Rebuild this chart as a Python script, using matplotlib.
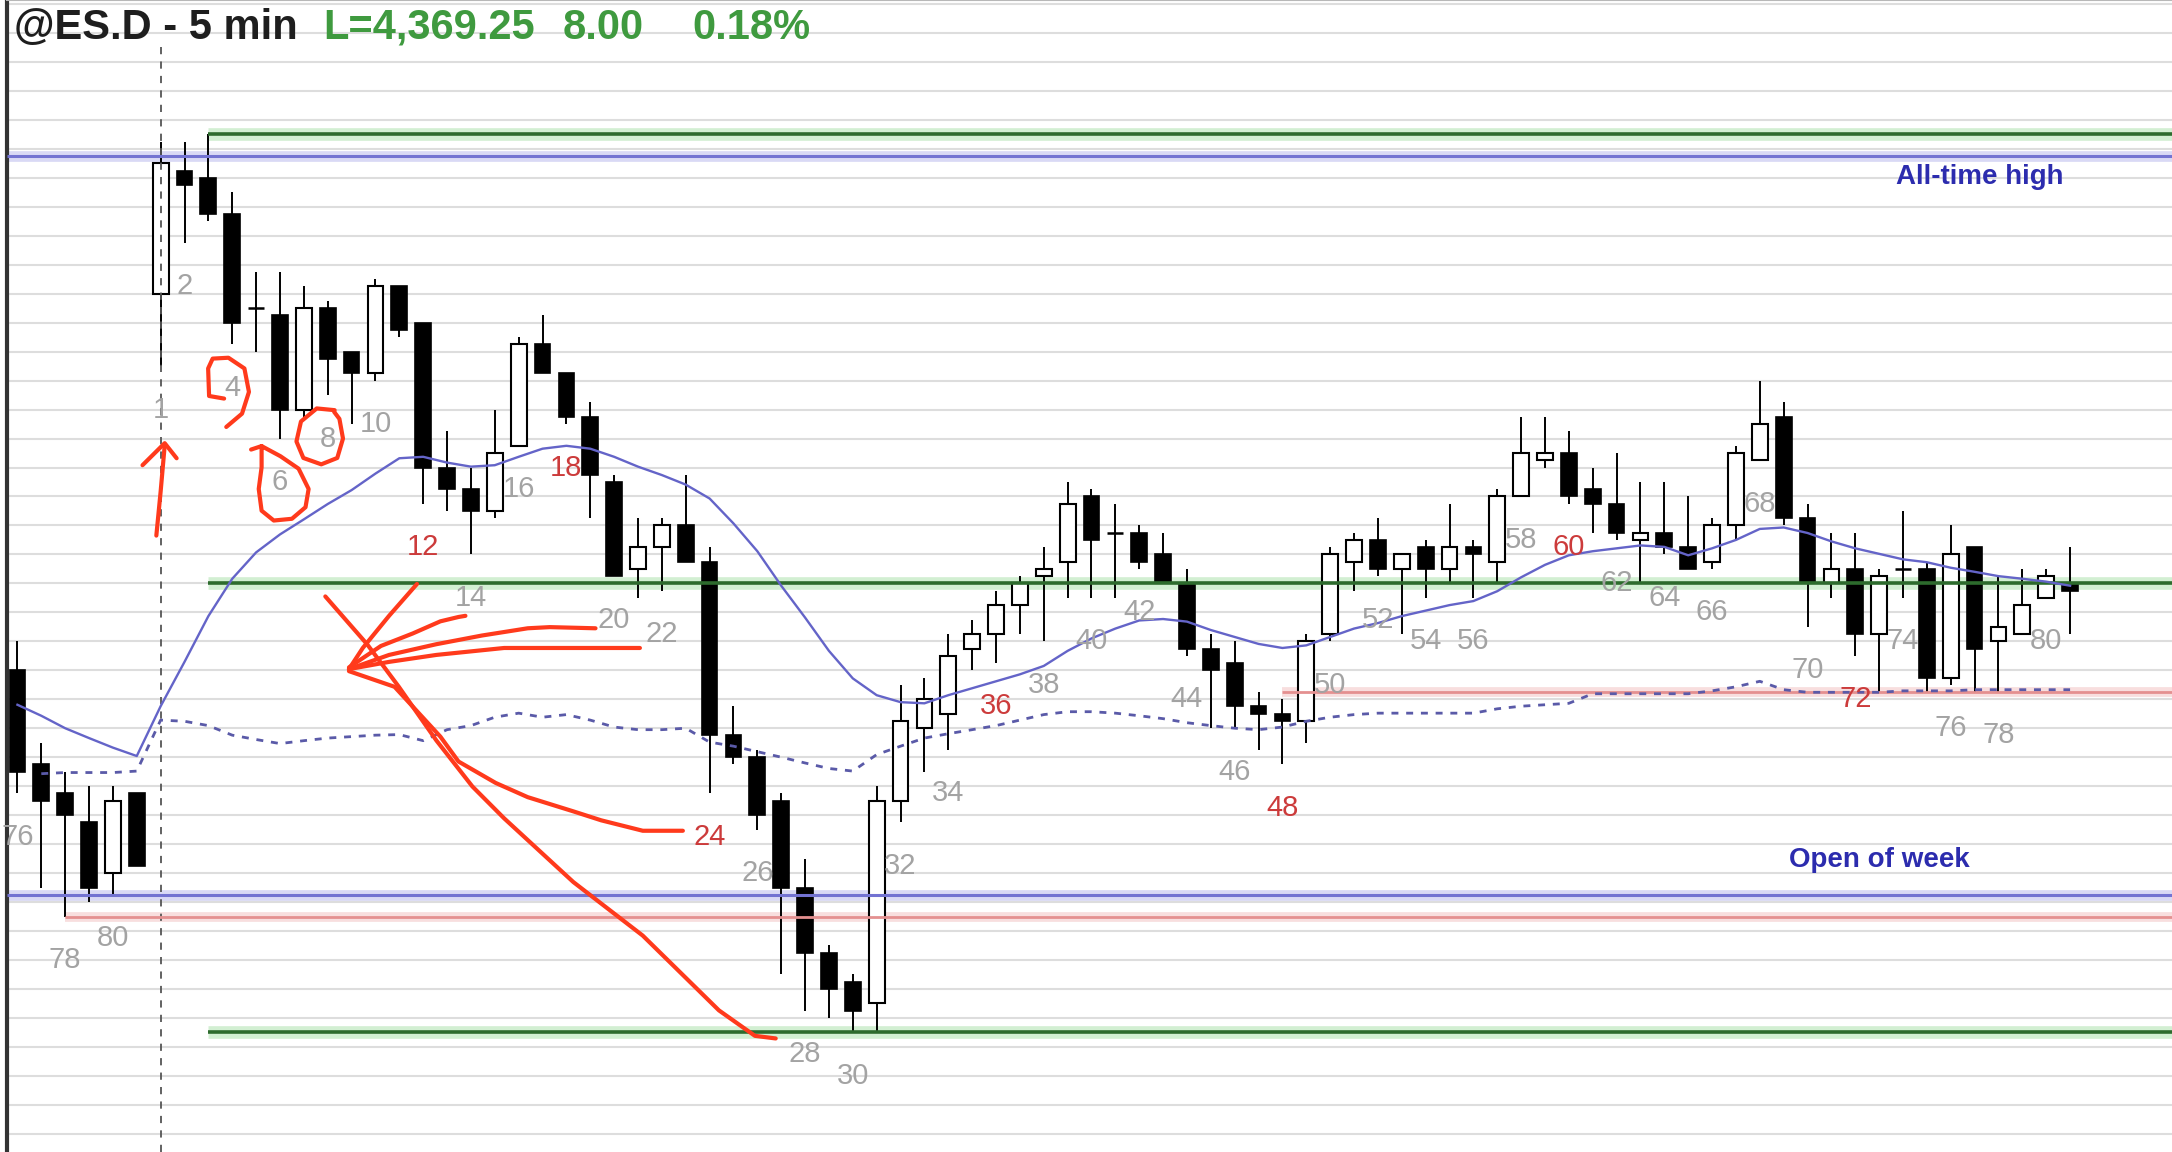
import numpy as np
import matplotlib.pyplot as plt

plt.rcParams['font.family'] = ['Liberation Sans', 'DejaVu Sans']

# ---- ES 5-min bars: last 6 bars of prior session, then bars 1..81 ----
prev_bar_nums = [76, 77, 78, 79, 80, 81]
bar_nums = list(range(1, 82))

opens = [4366.5, 4363.25, 4362.25, 4361.25, 4359.5, 4362.25,
         4379.5, 4383.75, 4383.5, 4382.25, 4379.0, 4378.75, 4375.5, 4379.0, 4377.5, 4376.75,
         4379.75, 4378.5, 4373.5, 4372.75, 4372.0, 4374.25, 4377.75, 4376.75, 4375.25, 4373.0,
         4370.0, 4370.75, 4371.5, 4370.25, 4364.25, 4363.5, 4362.0, 4359.0, 4356.75, 4355.75,
         4355.0, 4362.0, 4364.5, 4365.0, 4367.25, 4367.75, 4368.75, 4369.75, 4370.25, 4372.5,
         4371.25, 4371.25, 4370.5, 4369.5, 4367.25, 4366.75, 4365.25, 4365.0, 4364.75, 4367.75,
         4370.25, 4371.0, 4370.0, 4370.75, 4370.0, 4370.75, 4370.25, 4372.5, 4373.75, 4374.0,
         4372.75, 4372.25, 4371.0, 4371.25, 4370.75, 4370.25, 4371.5, 4373.75, 4375.25, 4371.75,
         4369.5, 4370.0, 4367.75, 4370.0, 4370.0, 4366.25, 4370.75, 4367.5, 4367.75, 4369.0,
         4369.5]
highs = [4367.5, 4364.0, 4363.0, 4362.5, 4362.5, 4362.25,
         4384.75, 4384.75, 4385.0, 4383.0, 4380.25, 4380.25, 4379.75, 4379.25, 4377.5, 4380.0,
         4379.75, 4378.5, 4374.75, 4373.5, 4375.5, 4378.0, 4378.75, 4376.75, 4375.75, 4373.25,
         4371.75, 4371.75, 4373.25, 4370.75, 4365.25, 4363.75, 4362.25, 4360.0, 4357.0, 4356.0,
         4362.5, 4366.0, 4366.25, 4367.75, 4368.25, 4369.25, 4369.75, 4370.75, 4373.0, 4372.75,
         4372.25, 4371.5, 4371.25, 4370.0, 4367.75, 4367.5, 4365.75, 4365.5, 4367.75, 4370.75,
         4371.25, 4371.75, 4370.5, 4371.0, 4372.25, 4371.0, 4372.75, 4375.25, 4375.25, 4374.75,
         4373.5, 4374.0, 4373.0, 4373.0, 4372.5, 4371.75, 4374.25, 4376.5, 4375.75, 4372.25,
         4371.25, 4371.25, 4370.0, 4372.0, 4370.25, 4371.5, 4370.75, 4369.75, 4370.0, 4370.0,
         4370.75]
lows = [4362.25, 4359.0, 4358.0, 4358.5, 4358.75, 4359.75,
        4377.0, 4381.25, 4382.0, 4377.75, 4377.5, 4374.5, 4375.25, 4376.0, 4375.0, 4376.5,
        4378.0, 4372.25, 4372.0, 4370.5, 4371.75, 4374.25, 4376.75, 4375.0, 4371.75, 4369.75,
        4369.0, 4369.25, 4370.25, 4362.25, 4363.25, 4361.0, 4356.0, 4354.75, 4354.5, 4354.0,
        4354.0, 4361.25, 4363.0, 4363.75, 4366.5, 4366.75, 4367.75, 4367.5, 4369.0, 4369.0,
        4369.0, 4370.0, 4369.5, 4367.0, 4364.5, 4364.5, 4363.75, 4363.25, 4364.0, 4367.5,
        4369.25, 4369.75, 4367.75, 4369.0, 4369.5, 4369.0, 4369.5, 4372.5, 4373.5, 4372.25,
        4371.25, 4371.0, 4369.5, 4370.5, 4370.0, 4370.0, 4371.0, 4373.75, 4371.5, 4368.0,
        4369.0, 4367.0, 4365.75, 4369.0, 4365.75, 4366.0, 4365.75, 4365.75, 4367.75, 4369.0,
        4367.75]
closes = [4363.0, 4362.0, 4361.5, 4359.0, 4362.0, 4359.75,
          4384.0, 4383.25, 4382.25, 4378.5, 4379.0, 4375.5, 4379.0, 4377.25, 4376.75, 4379.75,
          4378.25, 4373.5, 4372.75, 4372.0, 4374.0, 4377.75, 4376.75, 4375.25, 4373.25, 4369.75,
          4370.75, 4371.5, 4370.25, 4364.25, 4363.5, 4361.5, 4359.0, 4356.75, 4355.5, 4354.75,
          4362.0, 4364.75, 4365.5, 4367.0, 4367.75, 4368.75, 4369.5, 4370.0, 4372.25, 4371.0,
          4371.25, 4370.25, 4369.5, 4367.25, 4366.5, 4365.25, 4365.0, 4364.75, 4367.5, 4370.5,
          4371.0, 4370.0, 4370.5, 4370.0, 4370.75, 4370.5, 4372.5, 4374.0, 4374.0, 4372.5,
          4372.25, 4371.25, 4371.25, 4370.75, 4370.0, 4371.5, 4374.0, 4375.0, 4371.75, 4369.5,
          4370.0, 4367.75, 4369.75, 4370.0, 4366.25, 4370.5, 4367.25, 4368.0, 4368.75, 4369.75,
          4369.25]

# solid blue average and dotted average, one value per bar (nan = not drawn)
ema = [4365.31, 4364.93, 4364.50, 4364.16, 4363.83, 4363.54,
       4365.26, 4366.79, 4368.37, 4369.66, 4370.57, 4371.19, 4371.71, 4372.24, 4372.72, 4373.29,
       4373.82, 4373.87, 4373.67, 4373.53, 4373.58, 4373.87, 4374.15, 4374.25, 4374.15, 4373.87,
       4373.53, 4373.24, 4372.91, 4372.43, 4371.57, 4370.61, 4369.42, 4368.32, 4367.17, 4366.22,
       4365.64, 4365.40, 4365.36, 4365.64, 4365.88, 4366.12, 4366.36, 4366.65, 4367.17, 4367.60,
       4367.94, 4368.22, 4368.27, 4368.18, 4367.89, 4367.65, 4367.41, 4367.27, 4367.36, 4367.65,
       4367.94, 4368.13, 4368.37, 4368.56, 4368.75, 4368.89, 4369.23, 4369.71, 4370.14, 4370.47,
       4370.61, 4370.71, 4370.81, 4370.76, 4370.47, 4370.71, 4371.00, 4371.38, 4371.43, 4371.24,
       4370.95, 4370.71, 4370.52, 4370.33, 4370.23, 4370.04, 4369.90, 4369.75, 4369.66, 4369.56,
       4369.42]
avg_dotted = [np.nan, 4362.93, 4362.97, 4362.97, 4362.97, 4363.02,
              4364.78, 4364.74, 4364.59, 4364.26, 4364.11, 4363.97, 4364.07, 4364.16, 4364.21, 4364.26,
              4364.28, 4364.07, 4364.45, 4364.59, 4364.88, 4365.02, 4364.88, 4364.97, 4364.78, 4364.54,
              4364.45, 4364.45, 4364.50, 4364.02, 4363.88, 4363.69, 4363.50, 4363.30, 4363.11, 4363.02,
              4363.59, 4363.88, 4364.16, 4364.31, 4364.45, 4364.59, 4364.78, 4364.97, 4365.07, 4365.07,
              4365.02, 4364.93, 4364.83, 4364.69, 4364.59, 4364.50, 4364.45, 4364.54, 4364.74, 4364.88,
              4364.97, 4365.02, 4365.02, 4365.02, 4365.02, 4365.02, 4365.17, 4365.26, 4365.31, 4365.36,
              4365.69, 4365.69, 4365.69, 4365.69, 4365.69, 4365.79, 4365.93, 4366.12, 4365.83, 4365.74,
              4365.74, 4365.74, 4365.74, 4365.79, 4365.79, 4365.79, 4365.83, 4365.83, 4365.83, 4365.83,
              4365.83]

# horizontal levels
day_high = 4385.0
all_time_high = 4384.25
mid_level = 4369.5
day_low = 4354.0
week_open = 4358.75
prev_low = 4358.0
pink_level = 4365.75

prev_labelled = [76, 78, 80]
labelled = [1] + list(range(2, 81, 2))
red_labels = [12, 18, 24, 36, 48, 60, 72]

# hand-drawn red ink (bar position, price)
ink_strokes = [
    [(0.82, 4371.15), (1.0, 4372.67), (1.17, 4374.26)],
    [(0.24, 4373.58), (1.17, 4374.34), (1.67, 4373.82)],
    [(3.66, 4375.88), (3.03, 4375.97), (2.99, 4376.92), (3.18, 4377.26), (3.84, 4377.29),
     (4.51, 4376.92), (4.70, 4376.11), (4.41, 4375.36), (3.75, 4374.9)],
    [(4.79, 4374.12), (5.23, 4374.24), (6.02, 4373.89), (6.78, 4373.46), (7.20, 4372.76),
     (7.07, 4372.13), (6.50, 4371.73), (5.74, 4371.67), (5.23, 4372.01), (5.11, 4372.76),
     (5.23, 4373.51), (5.23, 4374.24)],
    [(8.29, 4375.48), (7.54, 4375.54), (6.88, 4375.09), (6.69, 4374.4), (6.98, 4373.83),
     (7.73, 4373.61), (8.4, 4373.83), (8.64, 4374.5), (8.49, 4375.18), (8.27, 4375.42)],
    [(11.74, 4369.48), (10.57, 4368.38), (9.47, 4367.27), (8.89, 4366.54)],
    [(8.89, 4366.6), (10.23, 4367.34), (11.56, 4367.77), (12.72, 4368.19), (13.48, 4368.34),
     (13.77, 4368.38)],
    [(8.89, 4366.54), (10.57, 4367.03), (12.55, 4367.4), (14.46, 4367.7), (16.38, 4367.95),
     (17.3, 4367.99), (19.22, 4367.95)],
    [(8.89, 4366.54), (10.57, 4366.79), (12.55, 4367.03), (15.39, 4367.27), (18.29, 4367.27),
     (21.08, 4367.27)],
    [(8.89, 4366.47), (10.8, 4365.93), (12.72, 4364.21), (13.48, 4363.35), (15.04, 4362.61),
     (16.38, 4362.12), (18.29, 4361.63), (19.46, 4361.32), (21.2, 4360.96), (22.88, 4360.96)],
    [(7.9, 4369.05), (9.65, 4367.4), (10.98, 4365.93), (12.55, 4364.08), (14.06, 4362.49),
     (15.39, 4361.39), (18.29, 4359.19), (21.2, 4357.34), (24.39, 4354.76), (25.9, 4353.88),
     (26.77, 4353.79)],
]

# ---- figure ----
X_LEFT, X_RIGHT = -5.44, 85.27
fig = plt.figure(figsize=(21.72, 11.52), dpi=100)
ax = fig.add_axes([5 / 1568, 0, 1563 / 1568, 1])
ax.set_xlim(X_LEFT, X_RIGHT)
ax.set_ylim(4349.87, 4389.64)
ax.set_xticks([])
ax.set_yticks(np.arange(4350.5, 4390, 1.0))
ax.tick_params(length=0, labelleft=False)
ax.grid(axis='y', color='#dddddd', lw=1.5, zorder=0)
for side in ['right', 'bottom']:
    ax.spines[side].set_visible(False)
ax.spines['left'].set_color('#333333')
ax.spines['left'].set_linewidth(3)
ax.spines['top'].set_color('#b8b8b8')
ax.spines['top'].set_linewidth(1.5)

# x positions: previous-session bars sit left of bar 1
x = np.array([n - 81 for n in prev_bar_nums] + bar_nums)
o, h, l, c = map(np.array, (opens, highs, lows, closes))


def level(y, x0, color, glow, lw=2.2):
    ax.plot([x0, X_RIGHT], [y, y], color=glow, lw=lw * 3.5, solid_capstyle='butt', zorder=1)
    ax.plot([x0, X_RIGHT], [y, y], color=color, lw=lw, solid_capstyle='butt', zorder=5)


level(all_time_high, X_LEFT, '#7373d2', '#d9d9f5')
level(week_open, X_LEFT, '#7373d2', '#d9d9f5')
level(prev_low, -3, '#e49090', '#f8dede', lw=2.0)
level(pink_level, 48, '#e49090', '#f8dede', lw=2.0)
for lv in [day_high, mid_level, day_low]:
    level(lv, 3, '#2d6b2d', '#d2efd2', lw=2.6)

# candles
down = c < o
up = c > o
flat = c == o
ax.vlines(x, l, h, color='black', lw=1.4, zorder=3)
ax.bar(x[down], (o - c)[down], bottom=c[down], width=0.66, color='black',
       edgecolor='black', lw=1.2, zorder=4)
ax.bar(x[up], (c - o)[up], bottom=o[up], width=0.66, color='white',
       edgecolor='black', lw=1.5, zorder=4)
ax.hlines(o[flat], x[flat] - 0.33, x[flat] + 0.33, color='black', lw=1.8, zorder=4)

# session divider
ax.axvline(1, ymax=0.96, color='#555555', lw=1.3, ls=(0, (4, 4)), zorder=4.5)

# averages
ax.plot(x, ema, color='#6464c8', lw=1.7, zorder=6)
ax.plot(x, avg_dotted, color='#5a5aa8', lw=2.0, ls=(0, (2.5, 2.8)), zorder=6)

# bar numbers under the lows
for xi, num, lo in zip(x, prev_bar_nums + bar_nums, l):
    shown = num in prev_labelled if xi <= 0 else num in labelled
    if not shown:
        continue
    red = xi > 0 and num in red_labels
    ax.text(xi, lo - 1.5, str(num), ha='center', va='center', fontsize=21,
            color='#cc3b3b' if red else '#a3a3a3', zorder=7)

ax.text(77.2, all_time_high - 0.72, 'All-time high', ha='center', va='center',
        fontsize=20, fontweight='bold', color='#2c2cae', zorder=7)
ax.text(73.0, week_open + 1.2, 'Open of week', ha='center', va='center',
        fontsize=20, fontweight='bold', color='#2c2cae', zorder=7)

# header
ax.text(0.0032, 0.976, '@ES.D - 5 min', transform=ax.transAxes, ha='left', va='center',
        fontsize=30, fontweight='bold', color='#1e1e1e')
for xpos, s in [(0.1459, 'L=4,369.25'), (0.2566, '8.00'), (0.3167, '0.18%')]:
    ax.text(xpos, 0.976, s, transform=ax.transAxes, ha='left', va='center',
            fontsize=30, fontweight='bold', color='#3f9a3f')

# red ink
for stroke in ink_strokes:
    sx, sy = zip(*stroke)
    ax.plot(sx, sy, color='#ff3a1c', lw=3.0, solid_capstyle='round',
            solid_joinstyle='round', zorder=10)

fig.savefig('out.png', dpi=100, facecolor='white')
